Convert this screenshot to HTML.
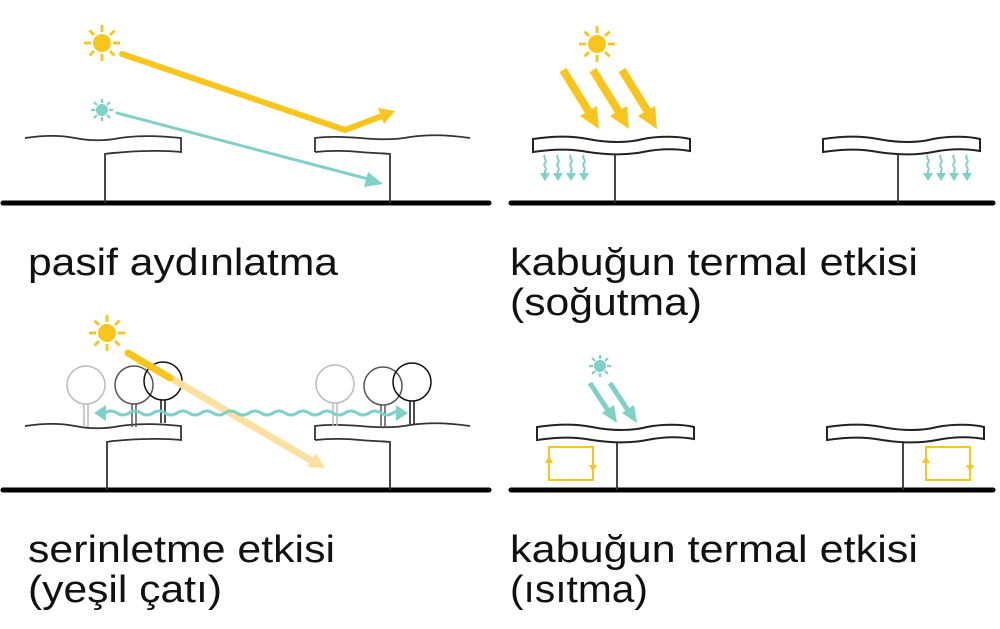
<!DOCTYPE html>
<html><head><meta charset="utf-8"><style>html,body{margin:0;padding:0;background:#fff}svg{display:block}</style></head>
<body>
<svg width="1000" height="629" viewBox="0 0 1000 629" xmlns="http://www.w3.org/2000/svg">
<defs>
<g id="sunY">
 <circle r="9" fill="#f8c51c"/>
 <g stroke="#f8c51c" stroke-width="2.8">
  <line x1="0" y1="-11" x2="0" y2="-18"/><line x1="0" y1="11" x2="0" y2="18"/>
  <line x1="-11" y1="0" x2="-18" y2="0"/><line x1="11" y1="0" x2="18" y2="0"/>
  <line x1="8" y1="8" x2="12.5" y2="12.5"/><line x1="-8" y1="-8" x2="-12.5" y2="-12.5"/>
  <line x1="8" y1="-8" x2="12.5" y2="-12.5"/><line x1="-8" y1="8" x2="-12.5" y2="12.5"/>
 </g>
</g>
<g id="sunT">
 <circle r="6" fill="#7fd0c6"/>
 <g stroke="#7fd0c6" stroke-width="2.2">
  <line x1="0" y1="-7" x2="0" y2="-11"/><line x1="0" y1="7" x2="0" y2="11"/>
  <line x1="-7" y1="0" x2="-11" y2="0"/><line x1="7" y1="0" x2="11" y2="0"/>
  <line x1="5" y1="5" x2="8" y2="8"/><line x1="-5" y1="-5" x2="-8" y2="-8"/>
  <line x1="5" y1="-5" x2="8" y2="-8"/><line x1="-5" y1="5" x2="-8" y2="8"/>
 </g>
</g>
<g id="slab">
 <path d="M0,0 C20,-3 40,-3 55,0 C75,4 95,4 110,0 C125,-3 145,-3 157,0 L157,12 C140,9 125,10 110,13 C95,16 75,16 55,13 C40,10 20,10 0,13 Z" fill="#fff" stroke="#222" stroke-width="2"/>
</g>
<g id="tree">
 <circle cx="0" cy="0" r="19" fill="none"/>
 <path d="M-2,19 L-2,42 M2,19 L2,42" fill="none"/>
</g>
</defs>

<g stroke="#000" stroke-width="5" stroke-linecap="round">
 <line x1="3" y1="203" x2="489" y2="203"/>
 <line x1="511" y1="203" x2="993" y2="203"/>
 <line x1="3" y1="490" x2="489" y2="490"/>
 <line x1="511" y1="490" x2="993" y2="490"/>
</g>

<g fill="none" stroke="#333" stroke-width="1.8">
 <path d="M25,138 C45,135 60,135 75,138 C90,141 105,141 120,138 C140,135 160,136 181,138 L181,152 C160,150 140,151 125,152 C115,153 110,153 105,154 L105,203"/>
 <path d="M315,152 L315,138 C330,136 345,137 360,138 C380,140 395,140 410,137 C430,134 450,135 470,138"/>
 <path d="M315,152 C335,150 350,151 360,152 C370,153 380,153 390,154 L390,203"/>
 <path d="M25,426 C45,423 60,423 75,426 C90,429 105,429 120,426 C140,423 160,424 181,426 L181,440 C160,438 140,439 125,440 C115,441 110,441 107,442 L107,490"/>
 <path d="M315,440 L315,426 C330,424 345,425 360,426 C380,428 395,428 410,425 C430,422 450,423 470,426"/>
 <path d="M315,440 C335,438 350,439 360,440 C370,441 380,441 390,442 L390,490"/>
</g>

<use href="#sunY" x="102" y="43"/>
<polyline points="122,54 345,130 382,116" fill="none" stroke="#f8c51c" stroke-width="6" stroke-linecap="round" stroke-linejoin="round"/>
<polygon points="395,111 378,108 384,124" fill="#f8c51c"/>
<use href="#sunT" x="102" y="110"/>
<line x1="117" y1="113" x2="372" y2="180" stroke="#7fd0c6" stroke-width="3" stroke-linecap="round"/>
<polygon points="383,184 368,172 364,187" fill="#7fd0c6"/>

<use href="#sunY" x="597" y="44"/>
<g stroke="#f8c51c" stroke-width="8">
 <line x1="563" y1="70" x2="589" y2="112"/>
 <line x1="593" y1="70" x2="619" y2="112"/>
 <line x1="622" y1="70" x2="648" y2="112"/>
</g>
<g fill="#f8c51c">
 <polygon points="599,129 580,116 597,106"/>
 <polygon points="629,129 610,116 627,106"/>
 <polygon points="657,129 638,116 655,106"/>
</g>
<use href="#slab" x="533" y="139"/>
<use href="#slab" x="823" y="139"/>
<g stroke="#333" stroke-width="1.8">
 <line x1="615" y1="154" x2="615" y2="203"/>
 <line x1="898" y1="154" x2="898" y2="203"/>
 <line x1="617" y1="442" x2="617" y2="490"/>
 <line x1="903" y1="442" x2="903" y2="490"/>
</g>
<g fill="none" stroke="#7fd0c6" stroke-width="2">
 <path d="M545,155 c-3,3 3,5 0,8 c-3,3 3,5 0,8 l0,3 M558,155 c-3,3 3,5 0,8 c-3,3 3,5 0,8 l0,3 M571,155 c-3,3 3,5 0,8 c-3,3 3,5 0,8 l0,3 M584,155 c-3,3 3,5 0,8 c-3,3 3,5 0,8 l0,3"/>
 <path d="M928,155 c-3,3 3,5 0,8 c-3,3 3,5 0,8 l0,3 M941,155 c-3,3 3,5 0,8 c-3,3 3,5 0,8 l0,3 M954,155 c-3,3 3,5 0,8 c-3,3 3,5 0,8 l0,3 M967,155 c-3,3 3,5 0,8 c-3,3 3,5 0,8 l0,3"/>
</g>
<g fill="#7fd0c6">
 <polygon points="540,173 550,173 545,181"/><polygon points="553,173 563,173 558,181"/>
 <polygon points="566,173 576,173 571,181"/><polygon points="579,173 589,173 584,181"/>
 <polygon points="923,173 933,173 928,181"/><polygon points="936,173 946,173 941,181"/>
 <polygon points="949,173 959,173 954,181"/><polygon points="962,173 972,173 967,181"/>
</g>

<g fill="none" stroke-width="1.5">
 <g stroke="#bbb"><use href="#tree" x="86" y="385"/></g>
 <g stroke="#555"><use href="#tree" x="134" y="385"/></g>
 <g stroke="#111"><use href="#tree" x="163" y="381"/></g>
 <g stroke="#bbb"><use href="#tree" x="335" y="384"/></g>
 <g stroke="#555"><use href="#tree" x="383" y="386"/></g>
 <g stroke="#111"><use href="#tree" x="412" y="382"/></g>
</g>
<line x1="128" y1="353" x2="312" y2="461" stroke="#fbe0a0" stroke-width="7"/>
<line x1="128" y1="353" x2="170" y2="378" stroke="#f8c51c" stroke-width="7" stroke-linecap="round"/>
<polygon points="325,468 307,467 316,453" fill="#fbe0a0"/>
<use href="#sunY" x="107" y="333"/>
<path d="M105,413 q6,-4 12,0 t12,0 t12,0 t12,0 t12,0 t12,0 t12,0 t12,0 t12,0 t12,0 t12,0 t12,0 t12,0 t12,0 t12,0 t12,0 t12,0 t12,0 t12,0 t12,0 t12,0 t12,0 t12,0 t12,0 t12,0" fill="none" stroke="#7fd0c6" stroke-width="3"/>
<polygon points="94,413 106,405 106,421" fill="#7fd0c6"/>
<polygon points="408,413 396,405 396,421" fill="#7fd0c6"/>

<use href="#sunT" x="600" y="366"/>
<g stroke="#7fd0c6" stroke-width="5">
 <line x1="590" y1="383" x2="609" y2="412"/>
 <line x1="610" y1="383" x2="629" y2="412"/>
</g>
<g fill="#7fd0c6">
 <polygon points="617,423 602,413 614,405"/>
 <polygon points="637,423 622,413 634,405"/>
</g>
<use href="#slab" x="537" y="427"/>
<use href="#slab" x="827" y="427"/>
<g fill="none" stroke="#f8c51c" stroke-width="2">
 <rect x="549" y="447" width="44" height="33"/>
 <rect x="926" y="447" width="44" height="33"/>
</g>
<g fill="#f8c51c">
 <polygon points="549,456 545,463 553,463"/><polygon points="593,472 589,465 597,465"/>
 <polygon points="926,456 922,463 930,463"/><polygon points="970,472 966,465 974,465"/>
</g>

<g font-family="'Liberation Sans', Arial, sans-serif" font-size="38" fill="#111">
 <text x="28" y="275" textLength="310" lengthAdjust="spacingAndGlyphs">pasif aydınlatma</text>
 <text x="510" y="275" textLength="408" lengthAdjust="spacingAndGlyphs">kabuğun termal etkisi</text>
 <text x="510" y="315" textLength="192" lengthAdjust="spacingAndGlyphs">(soğutma)</text>
 <text x="28" y="562" textLength="307" lengthAdjust="spacingAndGlyphs">serinletme etkisi</text>
 <text x="28" y="602" textLength="194" lengthAdjust="spacingAndGlyphs">(yeşil çatı)</text>
 <text x="510" y="562" textLength="408" lengthAdjust="spacingAndGlyphs">kabuğun termal etkisi</text>
 <text x="510" y="602" textLength="138" lengthAdjust="spacingAndGlyphs">(ısıtma)</text>
</g>
</svg>
</body></html>
